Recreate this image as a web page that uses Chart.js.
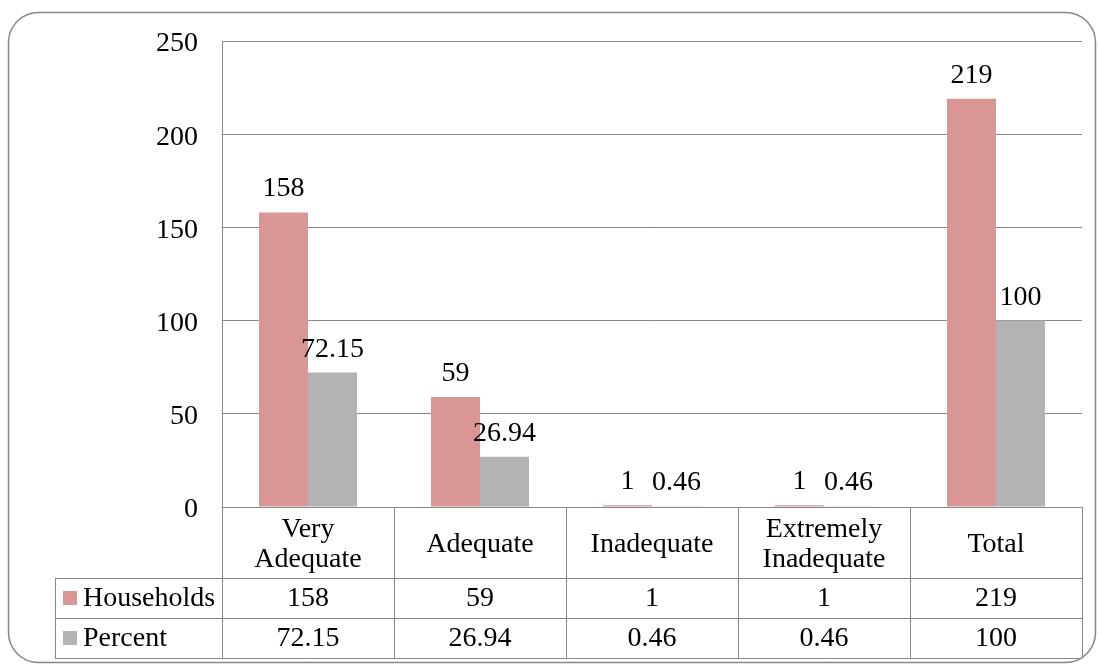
<!DOCTYPE html>
<html>
<head>
<meta charset="utf-8">
<script src="https://cdn.jsdelivr.net/npm/chart.js@4/dist/chart.umd.min.js"></script>
<style>
  html, body { margin: 0; padding: 0; background: #ffffff; }
  #wrap { width: 1098px; height: 665px; position: relative; }
</style>
</head>
<body>
<div id="wrap"><canvas id="c" width="1098" height="665"></canvas></div>
<script>
// Housing adequacy categories and counts
const categories = [["Very", "Adequate"], ["Adequate"], ["Inadequate"], ["Extremely", "Inadequate"], ["Total"]];
const households = [158, 59, 1, 1, 219];
const percent = [72.15, 26.94, 0.46, 0.46, 100];
const seriesNames = ["Households", "Percent"];
const yTicks = [0, 50, 100, 150, 200, 250];

const RED = "#D99694";
const GREY = "#B3B3B3";
const LINE = "#888888";
const FONT_SIZE = 28;
const FONT_FAMILY = "'Liberation Serif', 'Times New Roman', serif";
const FONT = FONT_SIZE + "px " + FONT_FAMILY;

// Rounded outer frame around the whole figure
const framePlugin = {
  id: "frame",
  beforeDraw(chart) {
    const ctx = chart.ctx;
    ctx.save();
    ctx.fillStyle = "#ffffff";
    ctx.fillRect(0, 0, chart.width, chart.height);
    ctx.strokeStyle = LINE;
    ctx.lineWidth = 1.5;
    const x = 8.5, y = 12.5, w = 1087, h = 650, r = 30;
    ctx.beginPath();
    ctx.moveTo(x + r, y);
    ctx.lineTo(x + w - r, y);
    ctx.arcTo(x + w, y, x + w, y + r, r);
    ctx.lineTo(x + w, y + h - r);
    ctx.arcTo(x + w, y + h, x + w - r, y + h, r);
    ctx.lineTo(x + r, y + h);
    ctx.arcTo(x, y + h, x, y + h - r, r);
    ctx.lineTo(x, y + r);
    ctx.arcTo(x, y, x + r, y, r);
    ctx.closePath();
    ctx.stroke();
    ctx.restore();
  }
};

// Value labels above each bar
const valueLabels = {
  id: "valueLabels",
  afterDatasetsDraw(chart) {
    const ctx = chart.ctx;
    ctx.save();
    ctx.font = FONT;
    ctx.fillStyle = "#000000";
    ctx.textAlign = "center";
    ctx.textBaseline = "alphabetic";
    chart.data.datasets.forEach((ds, di) => {
      const meta = chart.getDatasetMeta(di);
      meta.data.forEach((bar, i) => {
        ctx.fillText(String(ds.data[i]), bar.x, bar.y - 16);
      });
    });
    ctx.restore();
  }
};

// Data table under the plot: category row plus one row per series
const dataTable = {
  id: "dataTable",
  afterDraw(chart) {
    const ctx = chart.ctx;
    const area = chart.chartArea;
    const xs = chart.scales.x;
    const n = categories.length;
    const step = (area.right - area.left) / n;
    const top = area.bottom;
    const headBottom = top + 71;
    const rowH = 40;
    const tableLeft = 55;
    const rows = [headBottom, headBottom + rowH, headBottom + 2 * rowH];
    const px = v => Math.round(v) + 0.5;

    ctx.save();
    ctx.strokeStyle = LINE;
    ctx.lineWidth = 1;
    ctx.beginPath();
    rows.forEach(y => { ctx.moveTo(tableLeft, px(y)); ctx.lineTo(area.right, px(y)); });
    for (let i = 0; i <= n; i++) {
      const x = px(area.left + i * step);
      ctx.moveTo(x, top); ctx.lineTo(x, rows[2]);
    }
    ctx.moveTo(px(tableLeft), rows[0]); ctx.lineTo(px(tableLeft), rows[2]);
    ctx.stroke();

    ctx.font = FONT;
    ctx.fillStyle = "#000000";
    ctx.textAlign = "center";
    ctx.textBaseline = "middle";
    categories.forEach((lab, i) => {
      const cx = xs.getPixelForValue(i);
      const cy = (top + headBottom) / 2 + 2;
      const lh = 30;
      lab.forEach((line, k) => {
        ctx.fillText(line, cx, cy + (k - (lab.length - 1) / 2) * lh);
      });
      ctx.fillText(String(households[i]), cx, rows[0] + rowH / 2 + 1);
      ctx.fillText(String(percent[i]), cx, rows[1] + rowH / 2 + 1);
    });

    const colors = [RED, GREY];
    seriesNames.forEach((name, k) => {
      const cy = rows[k] + rowH / 2;
      ctx.fillStyle = colors[k];
      ctx.fillRect(63, cy - 7, 14, 14);
      ctx.fillStyle = "#000000";
      ctx.textAlign = "left";
      ctx.fillText(name, 83, cy + 1);
    });
    ctx.restore();
  }
};

new Chart(document.getElementById("c"), {
  type: "bar",
  data: {
    labels: categories.map(c => c.join(" ")),
    datasets: [
      { label: seriesNames[0], data: households, backgroundColor: RED, borderWidth: 0 },
      { label: seriesNames[1], data: percent, backgroundColor: GREY, borderWidth: 0 }
    ]
  },
  options: {
    responsive: false,
    animation: false,
    devicePixelRatio: 1,
    layout: { padding: { left: 0, top: 41, right: 16, bottom: 158 } },
    plugins: { legend: { display: false }, tooltip: { enabled: false } },
    datasets: { bar: { categoryPercentage: 0.57, barPercentage: 1.0 } },
    scales: {
      x: { display: false },
      y: {
        min: yTicks[0],
        max: yTicks[yTicks.length - 1],
        afterFit(scale) { scale.width = 222; },
        afterBuildTicks(scale) { scale.ticks = yTicks.map(v => ({ value: v })); },
        ticks: {
          color: "#000000",
          padding: 24,
          labelOffset: 3,
          font: { family: FONT_FAMILY, size: FONT_SIZE }
        },
        grid: { color: LINE, lineWidth: 1, drawTicks: false },
        border: { display: true, color: LINE, width: 1 }
      }
    }
  },
  plugins: [framePlugin, valueLabels, dataTable]
});
</script>
</body>
</html>
